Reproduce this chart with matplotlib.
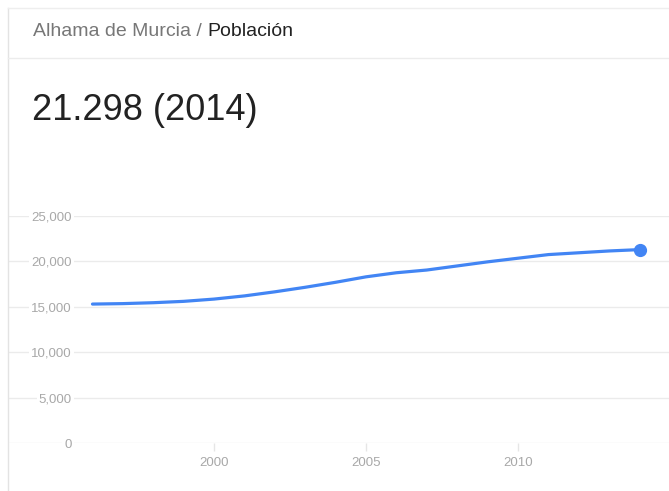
import matplotlib.pyplot as plt
from matplotlib.lines import Line2D

# Population of Alhama de Murcia
years = [1996, 1997, 1998, 1999, 2000, 2001, 2002, 2003, 2004, 2005,
         2006, 2007, 2008, 2009, 2010, 2011, 2012, 2013, 2014]
population = [15300, 15350, 15450, 15600, 15850, 16200, 16650, 17150, 17700, 18300,
              18750, 19050, 19500, 19950, 20350, 20750, 20950, 21150, 21298]

y_ticks = [0, 5000, 10000, 15000, 20000, 25000]
x_ticks = [2000, 2005, 2010]

W, H = 669, 491
plt.rcParams["font.family"] = ["Liberation Sans", "DejaVu Sans"]

fig = plt.figure(figsize=(W / 100, H / 100), dpi=100)

# Card borders
border = "#e3e3e3"
fig.add_artist(Line2D([8 / W, 8 / W], [0, 1 - 8 / H], color=border, lw=1))
fig.add_artist(Line2D([8 / W, 1], [1 - 8 / H, 1 - 8 / H], color="#eeeeee", lw=1))
fig.add_artist(Line2D([8 / W, 1], [1 - 58 / H, 1 - 58 / H], color="#ececec", lw=1))

# Header
t = fig.text(33 / W, 1 - 32 / H, "Alhama de Murcia", fontsize=14,
             color="#777777", va="center", ha="left")
fig.canvas.draw()
bb = t.get_window_extent()
t2 = fig.text(bb.x1 / W, 1 - 32 / H, " / ", fontsize=14,
              color="#777777", va="center", ha="left")
bb2 = t2.get_window_extent()
fig.text(bb2.x1 / W, 1 - 32 / H, "Población", fontsize=14,
         color="#222222", va="center", ha="left")

fig.text(32 / W, 1 - 110 / H, f"{population[-1]:,}".replace(",", ".") + f" ({years[-1]})",
         fontsize=26, color="#222222", va="center", ha="left")

# Chart axes
ax = fig.add_axes([8 / W, 48 / H, (W - 8) / W, (443 - 216) / H])
ax.set_xlim(1993.22, 2014.97)
ax.set_ylim(0, 25000)
for s in ax.spines.values():
    s.set_visible(False)

ax.set_yticks(y_ticks)
ax.set_yticklabels([f"{v:,}" for v in y_ticks])
ax.grid(axis="y", color="#ebebeb", lw=1)
ax.set_axisbelow(True)
ax.tick_params(axis="y", length=0, pad=-46, labelsize=9.5, labelcolor="#a8a8a8")
for lbl in ax.get_yticklabels():
    lbl.set_horizontalalignment("right")
    lbl.set_bbox(dict(facecolor="white", edgecolor="none", pad=1.5))

ax.set_xticks(x_ticks)
ax.set_xticklabels([str(v) for v in x_ticks])
ax.tick_params(axis="x", length=6, width=1, color="#e6e6e6", pad=4,
               labelsize=9.5, labelcolor="#a8a8a8")

ax.plot(years, population, color="#4285f4", lw=2.3, solid_capstyle="round",
        clip_on=False, zorder=3)
ax.plot(years[-1], population[-1], "o", color="#4285f4", ms=8.5,
        clip_on=False, zorder=4)

fig.savefig("out.png", dpi=100)
